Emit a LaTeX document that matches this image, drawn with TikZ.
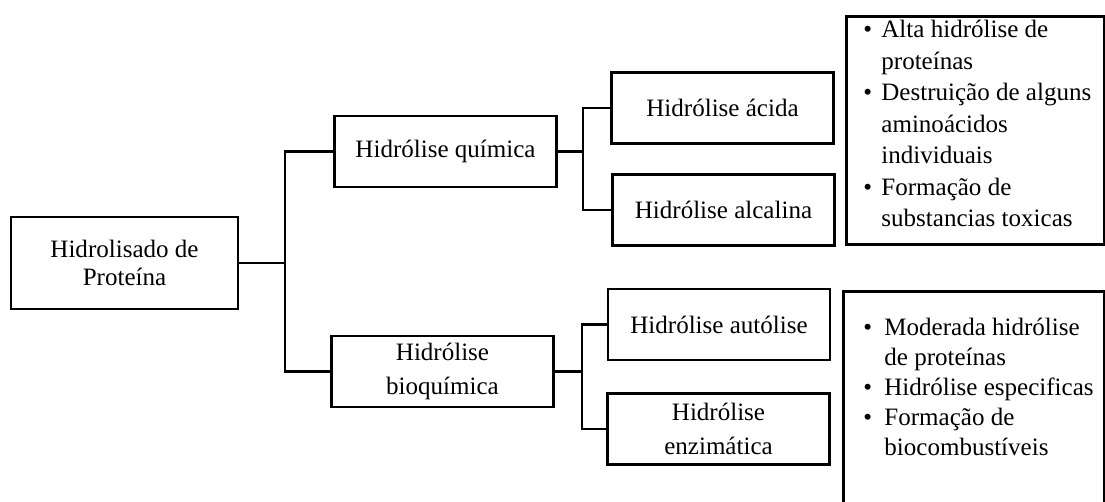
\documentclass[tikz,border=0pt]{standalone}
\usepackage{fontspec}
\setmainfont{Liberation Serif}
\usetikzlibrary{positioning}
\tikzstyle{stagebox} = [rectangle, minimum width=5.55cm, minimum height=1.775cm, text centered, align=center, draw=black, line width=2pt, fill=white, font=\fontsize{17.8}{24}\selectfont]
\tikzstyle{notebox} = [rectangle, draw=black, line width=2pt, fill=white, inner sep=0pt]
\tikzstyle{link} = [line width=2pt]

\newlength{\bulletskip}
\newlength{\textskip}
\newcommand{\bitem}[1]{\par\noindent\hangindent=\textskip\hangafter=1\makebox[\textskip][l]{\hspace{\bulletskip}\textbullet}#1\par}

\begin{document}
\begin{tikzpicture}[x=0.025cm, y=-0.025cm]
\useasboundingbox (0,0) rectangle (1105,501);
\clip (0,0) rectangle (1105,501);

% Root
\node (root) [stagebox, minimum width=5.675cm, minimum height=2.3cm, font=\fontsize{17.8}{20}\selectfont] at (124.5,263) {Hidrolisado de\\Proteína};

% Chemical / biochemical
\node (quim) [stagebox] at (445.5,151.5) {Hidrólise química};
\node (bioq) [stagebox] at (442.5,371.5) {Hidrólise\\bioquímica};

% Hydrolysis types
\node (acida) [stagebox] at (722.5,108) {Hidrólise ácida};
\node (alcal) [stagebox] at (723.5,210) {Hidrólise alcalina};
\node (autol) [stagebox] at (719,324.5) {Hidrólise autólise};
\node (enzim) [stagebox] at (718.5,429) {Hidrólise\\enzimática};

% Notes
\node (quimnote) [notebox, anchor=north west] at (845,15) {%
\begin{minipage}[c][5.7cm][t]{6.45cm}
\fontsize{17.8}{22.4}\selectfont
\setlength{\bulletskip}{0.425cm}\setlength{\textskip}{0.875cm}
\vspace*{0.1cm}
\bitem{Alta hidrólise de\newline proteínas}
\bitem{Destruição de alguns\newline aminoácidos\newline individuais}
\bitem{Formação de\newline substancias toxicas}
\end{minipage}};

\node (bioqnote) [notebox, anchor=north west] at (842,290) {%
\begin{minipage}[c][7.5cm][t]{6.525cm}
\fontsize{17.8}{21.3}\selectfont
\setlength{\bulletskip}{0.5cm}\setlength{\textskip}{1.025cm}
\vspace*{0.66cm}
\bitem{Moderada hidrólise\newline de proteínas}
\bitem{Hidrólise especificas}
\bitem{Formação de\newline biocombustíveis}
\end{minipage}};

% Connections
\coordinate (j1) at (285,263);
\coordinate (j2) at (583,151.5);
\coordinate (j3) at (582,371.5);

\draw [link] (root.east) -- (j1);
\draw [link] (j1) |- (quim.west);
\draw [link] (j1) |- (bioq.west);

\draw [link] (quim.east) -- (j2);
\draw [link] (j2) |- (acida.west);
\draw [link] (j2) |- (alcal.west);

\draw [link] (bioq.east) -- (j3);
\draw [link] (j3) |- (autol.west);
\draw [link] (j3) |- (enzim.west);

\end{tikzpicture}
\end{document}
